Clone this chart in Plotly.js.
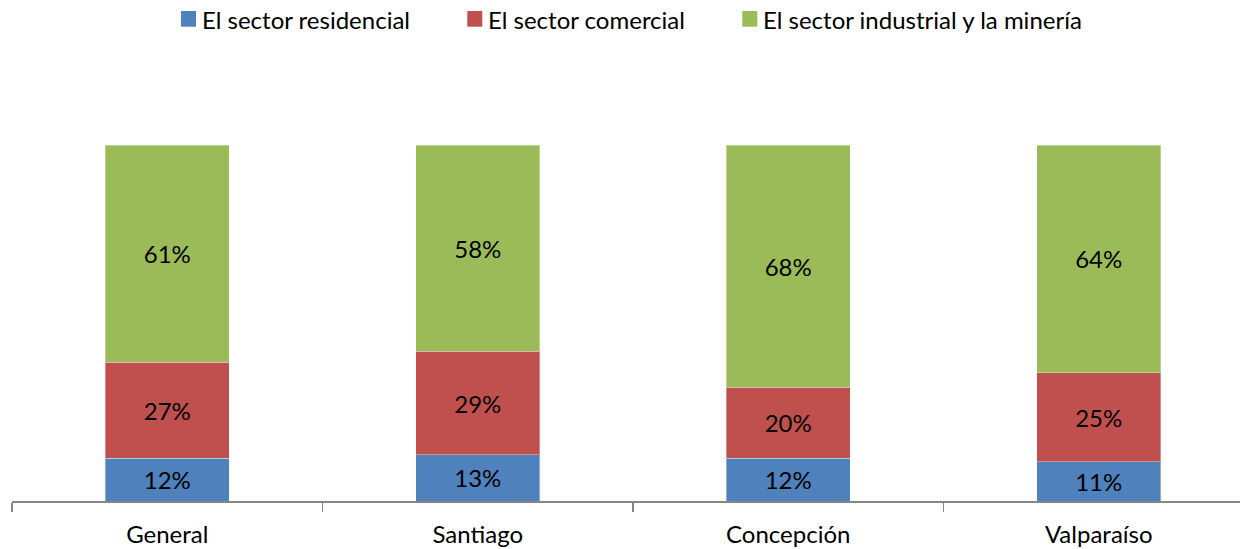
<!DOCTYPE html>
<html>
<head>
<meta charset="utf-8">
<script src="https://cdn.plot.ly/plotly-3.0.1.min.js"></script>
<style>html,body{margin:0;padding:0;background:#fff;}#chart{width:1240px;height:549px;}</style>
</head>
<body>
<div id="chart"></div>
<script>
const categories = ["General", "Santiago", "Concepción", "Valparaíso"];
const seriesNames = ["El sector residencial", "El sector comercial", "El sector industrial y la minería"];
const residencial = [12, 13, 12, 11];
const comercial = [27, 29, 20, 25];
const industrial = [61, 58, 68, 64];
const colors = ["#4F81BD", "#C0504D", "#9BBB59"];

const FONT = "Lato, 'Open Sans', sans-serif";
const W = 1240, H = 549;
const M = {l: 12, r: 0, t: 145, b: 48};
const PW = W - M.l - M.r, PH = H - M.t - M.b;
const px2x = px => (px - M.l) / PW;
const py2y = py => (H - M.b - py) / PH;

const series = [residencial, comercial, industrial];
const traces = series.map((vals, i) => ({
  type: "bar",
  name: seriesNames[i],
  x: categories,
  y: vals,
  marker: {color: colors[i], line: {color: "rgba(255,255,255,0.35)", width: 1}},
  texttemplate: "%{y}%",
  textposition: "inside",
  insidetextanchor: "middle",
  constraintext: "none",
  textfont: {family: FONT, size: 24, color: "#000"},
  hoverinfo: "skip",
  showlegend: false
}));

// manual legend (keys + labels) laid out like the reference
const legendKeyX = [181, 467.3, 742.3];
const shapes = [];
const annotations = [];
seriesNames.forEach((name, i) => {
  shapes.push({
    type: "rect", xref: "paper", yref: "paper",
    x0: px2x(legendKeyX[i]), x1: px2x(legendKeyX[i] + 15),
    y0: py2y(26.7), y1: py2y(11),
    fillcolor: colors[i], line: {width: 0}
  });
  annotations.push({
    xref: "paper", yref: "paper",
    x: px2x(legendKeyX[i] + 19), y: py2y(19.5),
    xanchor: "left", yanchor: "middle",
    text: name, showarrow: false,
    font: {family: FONT, size: 24, color: "#000"}
  });
});

const layout = {
  width: W, height: H,
  margin: {l: M.l, r: M.r, t: M.t, b: M.b, pad: 0},
  barmode: "stack",
  bargap: 0.6,
  paper_bgcolor: "#fff", plot_bgcolor: "#fff",
  font: {family: FONT, size: 21, color: "#000"},
  showlegend: false,
  shapes: shapes,
  annotations: annotations,
  xaxis: {
    type: "category",
    range: [-0.5, 3.455],
    showline: true, linecolor: "#868686", linewidth: 1.5,
    ticks: "outside", ticklen: 9, tickcolor: "#868686", tickwidth: 1.5,
    tickson: "boundaries",
    showgrid: false, zeroline: false,
    tickfont: {family: FONT, size: 24, color: "#000"},
    ticklabelstandoff: 12,
    fixedrange: true
  },
  yaxis: {
    range: [0, 100], visible: false, showgrid: false, zeroline: false, fixedrange: true
  }
};

Plotly.newPlot("chart", traces, layout, {displayModeBar: false, staticPlot: true});
</script>
</body>
</html>
